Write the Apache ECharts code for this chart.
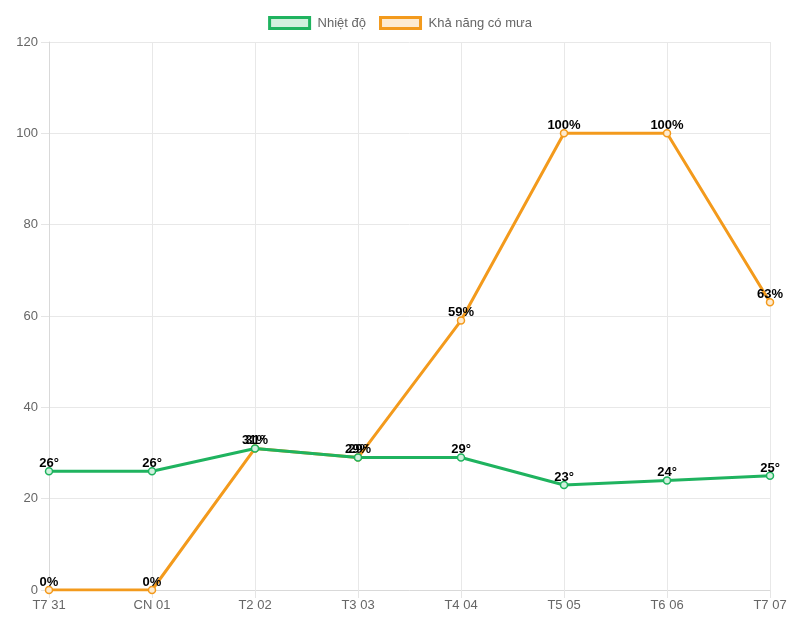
<!DOCTYPE html>
<html>
<head>
<meta charset="utf-8">
<script src="https://cdn.jsdelivr.net/npm/echarts@6/dist/echarts.min.js"></script>
<style>
  html, body { margin: 0; padding: 0; background: #fff; }
  #chart { width: 800px; height: 640px; }
</style>
</head>
<body>
<div id="chart"></div>
<script>
const days = ["T7 31", "CN 01", "T2 02", "T3 03", "T4 04", "T5 05", "T6 06", "T7 07"];
const temperature = [26, 26, 31, 29, 29, 23, 24, 25];
const rainChance = [0, 0, 31, 29, 59, 100, 100, 63];

const GREEN = "#1fb35f";
const ORANGE = "#f39a1c";
const FONT = "Liberation Sans, Arial, sans-serif";

const chart = echarts.init(document.getElementById("chart"));

// chung cho nhãn dữ liệu
function dataLabel(suffix) {
  return {
    show: true,
    position: "top",
    distance: -3,
    formatter: (p) => p.value + suffix,
    color: "#000",
    fontWeight: "bold",
    fontSize: 13,
    fontFamily: FONT,
  };
}

const option = {
  animation: false,
  textStyle: { fontFamily: FONT },
  legend: {
    top: 11,
    left: "center",
    itemWidth: 40,
    itemHeight: 11,
    itemGap: 13,
    icon: "rect",
    textStyle: { color: "#666", fontSize: 13, fontFamily: FONT, padding: [0, 0, 0, 3] },
    data: [
      { name: "Nhiệt độ", itemStyle: { color: "#d2f0de", borderColor: GREEN, borderWidth: 3 } },
      { name: "Khả năng có mưa", itemStyle: { color: "#fdebd1", borderColor: ORANGE, borderWidth: 3 } },
    ],
  },
  grid: { left: 49, right: 30, top: 42, bottom: 50 },
  xAxis: {
    type: "category",
    data: days,
    boundaryGap: false,
    axisLine: { lineStyle: { color: "#d9d9d9" } },
    axisTick: { show: true, length: 8, lineStyle: { color: "#e5e5e5" } },
    axisLabel: { color: "#666", fontSize: 13, margin: 9 },
    splitLine: { show: true, lineStyle: { color: "#e8e8e8" } },
  },
  yAxis: {
    type: "value",
    min: 0,
    max: 120,
    interval: 20,
    axisLine: { show: true, lineStyle: { color: "#d9d9d9" } },
    axisTick: { show: true, length: 8, lineStyle: { color: "#e5e5e5" } },
    axisLabel: { color: "#666", fontSize: 13, margin: 11 },
    splitLine: { lineStyle: { color: "#e8e8e8" } },
  },
  series: [
    {
      name: "Nhiệt độ",
      type: "line",
      z: 4,
      data: temperature,
      symbol: "circle",
      symbolSize: 7,
      lineStyle: { color: GREEN, width: 3 },
      itemStyle: { color: "#d2f0de", borderColor: GREEN, borderWidth: 1.5 },
      label: dataLabel("°"),
    },
    {
      name: "Khả năng có mưa",
      type: "line",
      z: 3,
      data: rainChance,
      symbol: "circle",
      symbolSize: 7,
      lineStyle: { color: ORANGE, width: 3 },
      itemStyle: { color: "#fdebd1", borderColor: ORANGE, borderWidth: 1.5 },
      label: dataLabel("%"),
    },
  ],
};

chart.setOption(option);
</script>
</body>
</html>
